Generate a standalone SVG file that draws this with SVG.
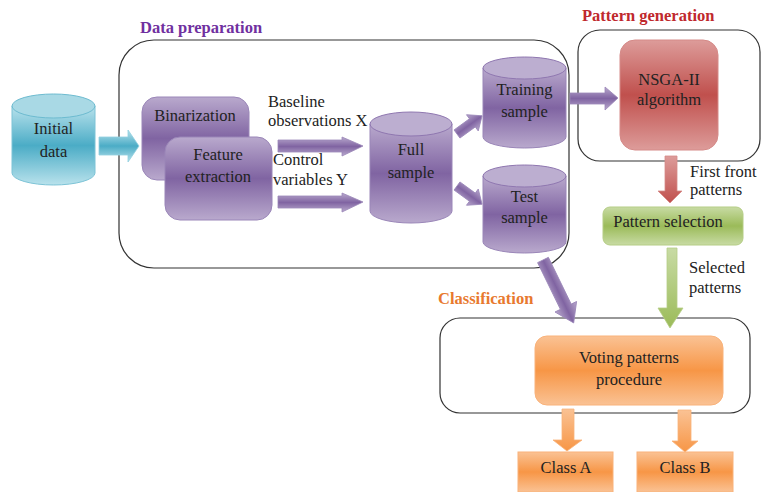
<svg xmlns="http://www.w3.org/2000/svg" width="762" height="492" viewBox="0 0 762 492">
<defs>
<linearGradient id="gc" x1="0" y1="0" x2="0" y2="1"><stop offset="0" stop-color="#b9e2ec"/><stop offset="0.5" stop-color="#4bacc6"/><stop offset="1" stop-color="#b9e2ec"/></linearGradient>
<linearGradient id="gp" x1="0" y1="0" x2="0" y2="1"><stop offset="0" stop-color="#b9a9cd"/><stop offset="0.5" stop-color="#8064a2"/><stop offset="1" stop-color="#b9a9cd"/></linearGradient>
<linearGradient id="gr" x1="0" y1="0" x2="0" y2="1"><stop offset="0" stop-color="#dd9c9a"/><stop offset="0.5" stop-color="#c0504d"/><stop offset="1" stop-color="#dd9c9a"/></linearGradient>
<linearGradient id="gg" x1="0" y1="0" x2="0" y2="1"><stop offset="0" stop-color="#c8dba4"/><stop offset="0.5" stop-color="#9bbb59"/><stop offset="1" stop-color="#c8dba4"/></linearGradient>
<linearGradient id="go" x1="0" y1="0" x2="0" y2="1"><stop offset="0" stop-color="#fac294"/><stop offset="0.5" stop-color="#f79646"/><stop offset="1" stop-color="#fac294"/></linearGradient>
<linearGradient id="grv" x1="0" y1="0" x2="0" y2="1"><stop offset="0" stop-color="#dd9c9a"/><stop offset="1" stop-color="#c0504d"/></linearGradient>
<linearGradient id="ggv" x1="0" y1="0" x2="0" y2="1"><stop offset="0" stop-color="#c8dba4"/><stop offset="1" stop-color="#9bbb59"/></linearGradient>
<linearGradient id="gov" x1="0" y1="0" x2="0" y2="1"><stop offset="0" stop-color="#fac294"/><stop offset="1" stop-color="#f79646"/></linearGradient>
</defs>
<style>
text{font-family:'Liberation Serif','DejaVu Serif',serif}
.t{font-size:16.5px;fill:#222}
.m{text-anchor:middle}
.h{font-size:16.5px;font-weight:bold}
.box{stroke:#333;stroke-width:1.2;fill:none}
.pc{fill:url(#gp);stroke:#9a86b8;stroke-width:1}
.ptop{fill:#bcaed0;stroke:#8f77b0;stroke-width:1}
</style>

<g id="containers">
<rect id="data-preparation" class="box" x="119" y="40" width="450" height="228" rx="35"/>
<rect id="pattern-generation" class="box" x="578" y="30" width="182" height="131" rx="22"/>
<rect id="classification" class="box" x="440" y="318" width="310" height="95" rx="20"/>
<text class="h" x="140" y="33" fill="#7030a0">Data preparation</text>
<text class="h" x="582" y="21" fill="#c0282d">Pattern generation</text>
<text class="h" x="438" y="304" fill="#e8792e">Classification</text>
</g>

<g id="initial-data">
<path d="M12,106 L12,173 A41.5,12 0 0 0 95,173 L95,106 Z" fill="url(#gc)" stroke="#7cc3d6"/>
<ellipse cx="53.5" cy="106" rx="41.5" ry="12" fill="#a9d9e5" stroke="#6dbbd0"/>
<text class="t m" x="53.5" y="134">Initial</text>
<text class="t m" x="53.5" y="157">data</text>
</g>

<g id="binarization">
<rect x="142" y="97" width="107" height="83" rx="15" fill="url(#gp)" stroke="#9a86b8"/>
<text class="t m" x="195" y="121">Binarization</text>
</g>

<g id="feature-extraction">
<rect x="165" y="137" width="107" height="83" rx="15" fill="url(#gp)" stroke="#9a86b8"/>
<text class="t m" x="218" y="160">Feature</text>
<text class="t m" x="218" y="182">extraction</text>
</g>

<g id="full-sample">
<path class="pc" d="M370,124 L370,211 A41,12 0 0 0 452,211 L452,124 Z"/>
<ellipse class="ptop" cx="411" cy="124" rx="41" ry="12"/>
<text class="t m" x="411" y="155">Full</text>
<text class="t m" x="411" y="178">sample</text>
</g>

<g id="training-sample">
<path class="pc" d="M483,68 L483,137 A41.5,11 0 0 0 566,137 L566,68 Z"/>
<ellipse class="ptop" cx="524.5" cy="68" rx="41.5" ry="11"/>
<text class="t m" x="524.5" y="95">Training</text>
<text class="t m" x="524.5" y="117">sample</text>
</g>

<g id="test-sample">
<path class="pc" d="M483,176 L483,242 A41.5,11 0 0 0 566,242 L566,176 Z"/>
<ellipse class="ptop" cx="524.5" cy="176" rx="41.5" ry="11"/>
<text class="t m" x="524.5" y="202">Test</text>
<text class="t m" x="524.5" y="223">sample</text>
</g>

<g id="nsga-ii">
<rect x="620" y="40" width="98" height="110" rx="15" fill="url(#gr)" stroke="#d58a88"/>
<text class="t m" x="669" y="85">NSGA-II</text>
<text class="t m" x="669" y="105">algorithm</text>
</g>

<g id="pattern-selection">
<rect x="603" y="207" width="140" height="38" rx="7" fill="url(#gg)" stroke="#b5cd85"/>
<text class="t m" x="668" y="227">Pattern selection</text>
</g>

<g id="voting-patterns-procedure">
<rect x="535" y="336" width="188" height="69" rx="12" fill="url(#go)" stroke="#f9b27a"/>
<text class="t m" x="629" y="363">Voting patterns</text>
<text class="t m" x="629" y="385">procedure</text>
</g>

<g id="class-a">
<rect x="518" y="452" width="95" height="40" fill="url(#go)" stroke="#f9b27a"/>
<text class="t m" x="566" y="473">Class A</text>
</g>

<g id="class-b">
<rect x="637" y="452" width="96" height="40" fill="url(#go)" stroke="#f9b27a"/>
<text class="t m" x="685" y="473">Class B</text>
</g>

<g id="connectors">
<polygon points="99,137 128,137 128,130 139,146 128,162 128,155 99,155" fill="url(#gc)" stroke="#8fcfe0" stroke-width="0.8"/>
<polygon points="278,140 342,140 342,137 363,146 342,156 342,152 278,152" fill="url(#gp)" stroke="#9a86b8" stroke-width="0.8"/>
<polygon points="278,196 342,196 342,193 363,202 342,212 342,208 278,208" fill="url(#gp)" stroke="#9a86b8" stroke-width="0.8"/>
<polygon transform="translate(457,134) rotate(-36)" points="0,-5 19,-5 19,-10 31,0 19,10 19,5 0,5" fill="url(#gp)" stroke="#9a86b8" stroke-width="0.8"/>
<polygon transform="translate(457,186) rotate(36)" points="0,-5 19,-5 19,-10 31,0 19,10 19,5 0,5" fill="url(#gp)" stroke="#9a86b8" stroke-width="0.8"/>
<polygon points="570,93 605,93 605,87 618,98 605,110 605,104 570,104" fill="url(#gp)" stroke="#9a86b8" stroke-width="0.8"/>
<polygon transform="translate(543,260) rotate(64)" points="0,-6 52,-6 52,-12 70,0 52,12 52,6 0,6" fill="url(#gp)" stroke="#9a86b8" stroke-width="0.8"/>
<polygon points="665,156 677,156 677,191 682,191 670,203 658,191 665,191" fill="url(#grv)" stroke="#d58a88" stroke-width="0.8"/>
<polygon points="667,248 677,248 677,308 683,308 670,328 658,308 667,308" fill="url(#ggv)" stroke="#b5cd85" stroke-width="0.8"/>
<polygon points="562,409 574,409 574,440 582,440 567,451 553,440 562,440" fill="url(#gov)" stroke="#f9b27a" stroke-width="0.8"/>
<polygon points="678,410 691,410 691,441 698,441 685,452 672,441 678,441" fill="url(#gov)" stroke="#f9b27a" stroke-width="0.8"/>
<text class="t" x="268" y="107">Baseline</text>
<text class="t" x="268" y="126">observations X</text>
<text class="t" x="273" y="165">Control</text>
<text class="t" x="273" y="185">variables Y</text>
<text class="t" x="690" y="177">First front</text>
<text class="t" x="690" y="195">patterns</text>
<text class="t" x="689" y="273">Selected</text>
<text class="t" x="689" y="293">patterns</text>
</g>
</svg>
